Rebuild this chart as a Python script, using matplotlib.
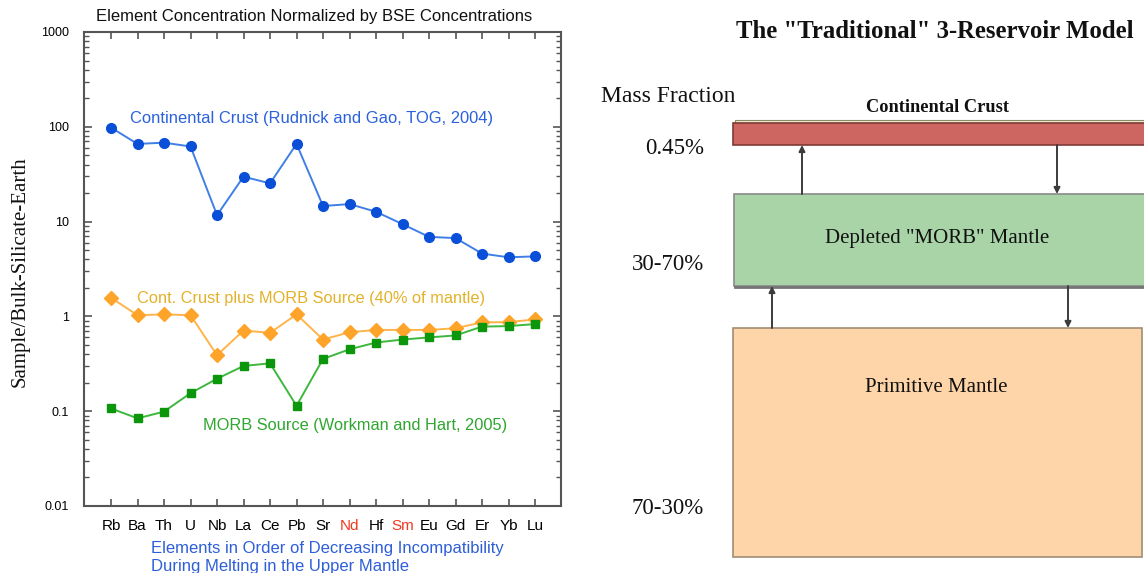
import matplotlib
matplotlib.use('Agg')
import matplotlib.pyplot as plt
from matplotlib.patches import Rectangle
from matplotlib.ticker import FixedLocator, FixedFormatter, LogLocator, NullFormatter
import numpy as np

# ---------------- data ----------------
elements = ['Rb', 'Ba', 'Th', 'U', 'Nb', 'La', 'Ce', 'Pb', 'Sr', 'Nd', 'Hf', 'Sm', 'Eu', 'Gd', 'Er', 'Yb', 'Lu']
highlight = ['Nd', 'Sm']
crust = [98, 66, 68, 62, 11.7, 29.8, 25.3, 66, 14.6, 15.3, 12.7, 9.4, 6.9, 6.7, 4.6, 4.2, 4.3]
crust_plus_morb = [1.57, 1.03, 1.05, 1.03, 0.39, 0.71, 0.67, 1.05, 0.57, 0.68, 0.72, 0.72, 0.72, 0.75, 0.865, 0.87, 0.93]
morb_source = [0.107, 0.084, 0.099, 0.155, 0.22, 0.30, 0.32, 0.114, 0.356, 0.45, 0.53, 0.57, 0.60, 0.63, 0.78, 0.79, 0.83]
ytick_vals = [0.01, 0.1, 1, 10, 100, 1000]
ytick_labels = ['0.01', '0.1', '1', '10', '100', '1000']

reservoirs = ['Continental Crust', 'Depleted "MORB" Mantle', 'Primitive Mantle']
mass_fractions = ['0.45%', '30-70%', '70-30%']

# ---------------- figure ----------------
W, H = 1144, 573
fig = plt.figure(figsize=(W / 100, H / 100), dpi=100)
fig.patch.set_facecolor('white')

SANS = ['Liberation Sans', 'DejaVu Sans']
SERIF = ['Liberation Serif', 'DejaVu Serif']

# ---- right-hand diagram (pixel coordinate axes) ----
ax2 = fig.add_axes([0, 0, 1, 1])
ax2.set_xlim(0, W)
ax2.set_ylim(H, 0)
ax2.axis('off')
ax2.patch.set_visible(False)

# crust slab
ax2.add_patch(Rectangle((735, 119.5), 420, 3.5, fc='#eeeed0', ec='#8a8a68', lw=0.8))
ax2.add_patch(Rectangle((733, 123), 420, 22, fc='#cd6660', ec='#7f3a36', lw=1.2))
# depleted mantle
ax2.add_patch(Rectangle((734, 194), 420, 92, fc='#a8d4a8', ec='#8a8a8a', lw=1.2))
ax2.plot([735, 1150], [286.5, 286.5], color='#757575', lw=2)
# primitive mantle
ax2.add_patch(Rectangle((733, 328), 409, 229, fc='#fed5a8', ec='#a08c74', lw=1.2))

arrow_kw = dict(arrowstyle='-|>', color='#3c3c3c', lw=1.4, mutation_scale=9, shrinkA=0, shrinkB=0)
ax2.annotate('', xy=(802, 145), xytext=(802, 194), arrowprops=arrow_kw)
ax2.annotate('', xy=(1057, 194), xytext=(1057, 145), arrowprops=arrow_kw)
ax2.annotate('', xy=(772, 286), xytext=(772, 328), arrowprops=arrow_kw)
ax2.annotate('', xy=(1068, 328), xytext=(1068, 286), arrowprops=arrow_kw)

ax2.text(935, 32, 'The "Traditional" 3-Reservoir Model', family=SERIF, fontsize=17.8,
         fontweight='bold', ha='center', va='center', color='#111111')
ax2.text(601, 96, 'Mass Fraction', family=SERIF, fontsize=17, ha='left', va='center', color='#111111')
ax2.text(938, 107, reservoirs[0], family=SERIF, fontsize=13.2, fontweight='bold',
         ha='center', va='center', color='#111111')
ax2.text(937, 238, reservoirs[1], family=SERIF, fontsize=15, ha='center', va='center', color='#111111')
ax2.text(936, 387, reservoirs[2], family=SERIF, fontsize=15, ha='center', va='center', color='#111111')
for txt, yy in zip(mass_fractions, [148, 265, 508]):
    ax2.text(704, yy, txt, family=SERIF, fontsize=16.5, ha='right', va='center', color='#111111')

# ---- left-hand spider diagram ----
ax = fig.add_axes([84 / W, 1 - 506 / H, (561 - 84) / W, (506 - 32) / H])
x = np.arange(len(elements))

ax.plot(x, crust, '-', color='#3f7fe6', lw=1.4, zorder=3)
ax.plot(x, crust, 'o', color='#0a4fd8', ms=7, mec='#0a4fd8', zorder=4)
ax.plot(x, crust_plus_morb, '-', color='#ffb44a', lw=1.4, zorder=3)
ax.plot(x, crust_plus_morb, 'D', color='#ffa42a', ms=7, mec='#ffa42a', zorder=4)
ax.plot(x, morb_source, '-', color='#3db83d', lw=1.4, zorder=5)
ax.plot(x, morb_source, 's', color='#0c960c', ms=5.5, mec='#0c960c', zorder=6)

ax.set_yscale('log')
ax.set_ylim(0.01, 1000)
ax.set_xlim(-1.02, 16.98)

ax.yaxis.set_major_locator(FixedLocator(ytick_vals))
ax.yaxis.set_major_formatter(FixedFormatter(ytick_labels))
ax.yaxis.set_minor_locator(LogLocator(base=10, subs=np.arange(2, 10), numticks=20))
ax.yaxis.set_minor_formatter(NullFormatter())
ax.set_xticks(x)
ax.set_xticklabels(elements)

spine_col = '#555555'
for s in ax.spines.values():
    s.set_color(spine_col)
    s.set_linewidth(1.5)

ax.tick_params(axis='both', which='both', direction='in', color=spine_col, top=True, right=True)
ax.tick_params(axis='y', which='major', length=6, width=1.2, labelsize=9, pad=11)
ax.tick_params(axis='y', which='minor', length=3.5, width=1.0)
ax.tick_params(axis='x', which='major', length=5, width=1.2, labelsize=11, pad=9)
for lab in ax.get_yticklabels():
    lab.set_family(SANS)
for lab in ax.get_xticklabels():
    lab.set_family(SANS)
    if lab.get_text() in highlight:
        lab.set_color('#f03a20')

ax.text(0.0964, 0.8165, 'Continental Crust (Rudnick and Gao, TOG, 2004)', transform=ax.transAxes,
        family=SANS, fontsize=11.9, color='#2b62dc', ha='left', va='center')
ax.text(0.111, 0.4388, 'Cont. Crust plus MORB Source (40% of mantle)', transform=ax.transAxes,
        family=SANS, fontsize=11.8, color='#e3b22a', ha='left', va='center')
ax.text(0.2495, 0.1688, 'MORB Source (Workman and Hart, 2005)', transform=ax.transAxes,
        family=SANS, fontsize=11.8, color='#2fa62f', ha='left', va='center')

fig.text(314.5 / W, 1 - 17 / H, 'Element Concentration Normalized by BSE Concentrations',
         family=SANS, fontsize=12, ha='center', va='center', color='#111111')
fig.text(20 / W, 1 - 272 / H, 'Sample/Bulk-Silicate-Earth', family=SERIF, fontsize=15,
         rotation=90, ha='center', va='center', color='#111111')
fig.text(151 / W, 1 - 549 / H, 'Elements in Order of Decreasing Incompatibility',
         family=SANS, fontsize=12, ha='left', va='center', color='#2d5fd8')
fig.text(151 / W, 1 - 566 / H, 'During Melting in the Upper Mantle',
         family=SANS, fontsize=12, ha='left', va='center', color='#2d5fd8')

fig.savefig('out.png', dpi=100)
